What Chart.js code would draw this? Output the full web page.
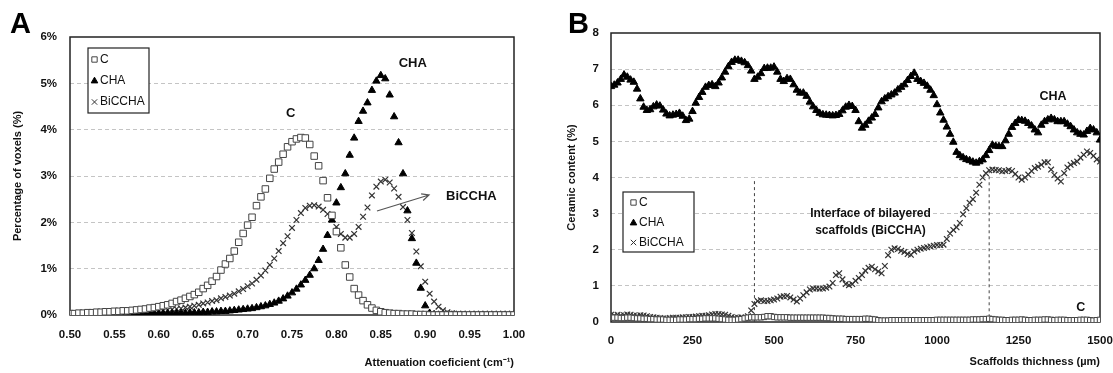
<!DOCTYPE html>
<html>
<head>
<meta charset="utf-8">
<script src="https://cdn.jsdelivr.net/npm/chart.js@4.4.1/dist/chart.umd.min.js"></script>
<style>
  html, body { margin: 0; padding: 0; background: #fff; }
  #wrapA { position: absolute; left: 0; top: 0; width: 545px; height: 373px; }
  #wrapB { position: absolute; left: 545px; top: 0; width: 568px; height: 373px; }
</style>
</head>
<body>
<div id="wrapA"><canvas id="chartA" width="545" height="373"></canvas></div>
<div id="wrapB"><canvas id="chartB" width="568" height="373"></canvas></div>
<script>
// ---- Panel A: attenuation coefficient histogram ----
const attenuation = [
    0.5, 0.505, 0.51, 0.515, 0.52, 0.525, 0.53, 0.535, 0.54, 0.545,
    0.55, 0.555, 0.56, 0.565, 0.57, 0.575, 0.58, 0.585, 0.59, 0.595,
    0.6, 0.605, 0.61, 0.615, 0.62, 0.625, 0.63, 0.635, 0.64, 0.645,
    0.65, 0.655, 0.66, 0.665, 0.67, 0.675, 0.68, 0.685, 0.69, 0.695,
    0.7, 0.705, 0.71, 0.715, 0.72, 0.725, 0.73, 0.735, 0.74, 0.745,
    0.75, 0.755, 0.76, 0.765, 0.77, 0.775, 0.78, 0.785, 0.79, 0.795,
    0.8, 0.805, 0.81, 0.815, 0.82, 0.825, 0.83, 0.835, 0.84, 0.845,
    0.85, 0.855, 0.86, 0.865, 0.87, 0.875, 0.88, 0.885, 0.89, 0.895,
    0.9, 0.905, 0.91, 0.915, 0.92, 0.925, 0.93, 0.935, 0.94, 0.945,
    0.95, 0.955, 0.96, 0.965, 0.97, 0.975, 0.98, 0.985, 0.99, 0.995,
    1.0
];
const voxelsC = [
    0.03, 0.03, 0.04, 0.04, 0.05, 0.05, 0.06, 0.06, 0.07, 0.07,
    0.08, 0.08, 0.09, 0.09, 0.10, 0.11, 0.12, 0.13, 0.15, 0.16,
    0.18, 0.20, 0.22, 0.25, 0.29, 0.32, 0.36, 0.40, 0.44, 0.49,
    0.57, 0.64, 0.73, 0.83, 0.97, 1.10, 1.22, 1.38, 1.57, 1.76,
    1.94, 2.11, 2.36, 2.55, 2.72, 2.95, 3.15, 3.30, 3.47, 3.63,
    3.74, 3.80, 3.83, 3.82, 3.68, 3.43, 3.22, 2.90, 2.53, 2.15,
    1.80, 1.45, 1.08, 0.82, 0.57, 0.43, 0.31, 0.22, 0.15, 0.10,
    0.07, 0.05, 0.04, 0.03, 0.03, 0.02, 0.02, 0.02, 0.01, 0.01,
    0.01, 0, 0, 0, 0, 0, 0, 0, 0, 0,
    0, 0, 0, 0, 0, 0, 0, 0, 0, 0,
    0
];
const voxelsCHA = [
    0, 0, 0, 0.01, 0.01, 0.01, 0.01, 0.01, 0.01, 0.01,
    0.01, 0.01, 0.02, 0.02, 0.02, 0.02, 0.02, 0.02, 0.02, 0.03,
    0.03, 0.03, 0.03, 0.03, 0.04, 0.04, 0.04, 0.05, 0.05, 0.05,
    0.06, 0.06, 0.07, 0.07, 0.08, 0.08, 0.09, 0.10, 0.11, 0.12,
    0.13, 0.14, 0.16, 0.18, 0.20, 0.23, 0.26, 0.30, 0.35, 0.41,
    0.48, 0.56, 0.65, 0.75, 0.86, 1.00, 1.18, 1.42, 1.72, 2.05,
    2.42, 2.75, 3.05, 3.45, 3.82, 4.18, 4.40, 4.58, 4.85, 5.05,
    5.17, 5.10, 4.75, 4.28, 3.72, 3.05, 2.25, 1.65, 1.12, 0.58,
    0.20, 0.04, 0.01, 0, 0, 0, 0, 0, 0, 0,
    0, 0, 0, 0, 0, 0, 0, 0, 0, 0,
    0
];
const voxelsBiCCHA = [
    0.02, 0.02, 0.02, 0.03, 0.03, 0.03, 0.03, 0.04, 0.04, 0.04,
    0.05, 0.05, 0.05, 0.06, 0.06, 0.07, 0.07, 0.08, 0.08, 0.09,
    0.09, 0.10, 0.11, 0.12, 0.13, 0.14, 0.16, 0.18, 0.20, 0.22,
    0.25, 0.27, 0.30, 0.32, 0.36, 0.39, 0.42, 0.46, 0.51, 0.56,
    0.62, 0.68, 0.76, 0.85, 0.96, 1.08, 1.22, 1.38, 1.55, 1.70,
    1.88, 2.05, 2.20, 2.31, 2.36, 2.37, 2.34, 2.27, 2.18, 2.06,
    1.90, 1.75, 1.67, 1.67, 1.75, 1.90, 2.12, 2.32, 2.58, 2.77,
    2.88, 2.92, 2.86, 2.73, 2.55, 2.33, 2.05, 1.77, 1.37, 1.05,
    0.72, 0.46, 0.29, 0.18, 0.10, 0.06, 0.04, 0.02, 0.01, 0,
    0, 0, 0, 0, 0, 0, 0, 0, 0, 0,
    0
];

// ---- Panel B: ceramic content along scaffold thickness ----
const thickness = [
    0, 10, 20, 30, 40, 50, 60, 70, 80, 90,
    100, 110, 120, 130, 140, 150, 160, 170, 180, 190,
    200, 210, 220, 230, 240, 250, 260, 270, 280, 290,
    300, 310, 320, 330, 340, 350, 360, 370, 380, 390,
    400, 410, 420, 430, 440, 450, 460, 470, 480, 490,
    500, 510, 520, 530, 540, 550, 560, 570, 580, 590,
    600, 610, 620, 630, 640, 650, 660, 670, 680, 690,
    700, 710, 720, 730, 740, 750, 760, 770, 780, 790,
    800, 810, 820, 830, 840, 850, 860, 870, 880, 890,
    900, 910, 920, 930, 940, 950, 960, 970, 980, 990,
    1000, 1010, 1020, 1030, 1040, 1050, 1060, 1070, 1080, 1090,
    1100, 1110, 1120, 1130, 1140, 1150, 1160, 1170, 1180, 1190,
    1200, 1210, 1220, 1230, 1240, 1250, 1260, 1270, 1280, 1290,
    1300, 1310, 1320, 1330, 1340, 1350, 1360, 1370, 1380, 1390,
    1400, 1410, 1420, 1430, 1440, 1450, 1460, 1470, 1480, 1490,
    1500
];
const ceramicC = [
    0.13, 0.12, 0.12, 0.11, 0.11, 0.12, 0.12, 0.11, 0.10, 0.10,
    0.09, 0.09, 0.08, 0.08, 0.07, 0.07, 0.07, 0.06, 0.06, 0.06,
    0.06, 0.07, 0.07, 0.07, 0.08, 0.08, 0.08, 0.09, 0.09, 0.10,
    0.10, 0.10, 0.10, 0.09, 0.08, 0.07, 0.06, 0.06, 0.06, 0.07,
    0.08, 0.10, 0.12, 0.13, 0.13, 0.13, 0.13, 0.14, 0.16, 0.16,
    0.14, 0.13, 0.13, 0.13, 0.13, 0.12, 0.12, 0.12, 0.12, 0.12,
    0.12, 0.12, 0.12, 0.12, 0.12, 0.12, 0.11, 0.11, 0.10, 0.09,
    0.09, 0.09, 0.08, 0.08, 0.08, 0.08, 0.08, 0.08, 0.09, 0.09,
    0.08, 0.07, 0.05, 0.04, 0.04, 0.04, 0.05, 0.05, 0.05, 0.05,
    0.05, 0.05, 0.05, 0.05, 0.05, 0.05, 0.05, 0.05, 0.05, 0.05,
    0.06, 0.06, 0.06, 0.06, 0.06, 0.06, 0.06, 0.06, 0.06, 0.06,
    0.06, 0.07, 0.07, 0.07, 0.08, 0.08, 0.09, 0.08, 0.07, 0.06,
    0.06, 0.05, 0.05, 0.06, 0.06, 0.06, 0.07, 0.06, 0.05, 0.05,
    0.06, 0.06, 0.06, 0.07, 0.07, 0.06, 0.05, 0.06, 0.06, 0.06,
    0.05, 0.05, 0.05, 0.05, 0.06, 0.06, 0.06, 0.05, 0.04, 0.05,
    0.06
];
const ceramicCHA = [
    6.52, 6.56, 6.62, 6.72, 6.84, 6.78, 6.70, 6.64, 6.45, 6.18,
    5.95, 5.86, 5.88, 5.96, 6.01, 5.98, 5.87, 5.76, 5.71, 5.73,
    5.75, 5.78, 5.70, 5.58, 5.62, 5.83, 6.06, 6.22, 6.36, 6.50,
    6.55, 6.57, 6.52, 6.62, 6.76, 6.92, 7.07, 7.19, 7.25, 7.25,
    7.22, 7.18, 7.10, 6.95, 6.72, 6.78, 6.88, 7.02, 7.03, 7.03,
    7.06, 6.92, 6.72, 6.66, 6.74, 6.72, 6.57, 6.42, 6.34, 6.34,
    6.25, 6.09, 5.96, 5.86, 5.78, 5.74, 5.73, 5.72, 5.71, 5.72,
    5.75, 5.85, 5.95, 6.00, 5.97, 5.86, 5.55, 5.37, 5.45, 5.56,
    5.65, 5.75, 5.93, 6.10, 6.18, 6.24, 6.29, 6.34, 6.43, 6.50,
    6.57, 6.69, 6.80, 6.89, 6.72, 6.66, 6.61, 6.53, 6.42, 6.27,
    6.02, 5.79, 5.59, 5.40, 5.20, 4.98, 4.70, 4.61, 4.55, 4.50,
    4.47, 4.43, 4.40, 4.44, 4.49, 4.61, 4.75, 4.90, 4.87, 4.86,
    4.86, 5.02, 5.20, 5.39, 5.50, 5.59, 5.58, 5.56, 5.50, 5.43,
    5.32, 5.24, 5.45, 5.55, 5.60, 5.64, 5.60, 5.55, 5.55, 5.55,
    5.48, 5.41, 5.32, 5.24, 5.20, 5.18, 5.28, 5.36, 5.32, 5.24,
    5.04
];
const ceramicBiCCHA = [
    0.20, 0.18, 0.20, 0.18, 0.19, 0.21, 0.20, 0.18, 0.17, 0.19,
    0.18, 0.16, 0.14, 0.13, 0.12, 0.11, 0.10, 0.10, 0.11, 0.12,
    0.12, 0.12, 0.13, 0.13, 0.14, 0.14, 0.15, 0.16, 0.17, 0.17,
    0.19, 0.21, 0.22, 0.22, 0.21, 0.20, 0.17, 0.14, 0.12, 0.12,
    0.13, 0.12, 0.16, 0.32, 0.50, 0.58, 0.60, 0.58, 0.58, 0.60,
    0.62, 0.65, 0.70, 0.71, 0.72, 0.68, 0.62, 0.57, 0.65, 0.74,
    0.82, 0.90, 0.93, 0.93, 0.92, 0.93, 0.95, 0.98, 1.08, 1.30,
    1.35, 1.18, 1.05, 1.02, 1.05, 1.14, 1.22, 1.30, 1.42, 1.50,
    1.53, 1.46, 1.40, 1.35, 1.55, 1.85, 2.00, 2.04, 2.02, 1.97,
    1.94, 1.88, 1.86, 1.95, 2.00, 2.03, 2.05, 2.07, 2.09, 2.11,
    2.13, 2.13, 2.14, 2.30, 2.45, 2.55, 2.62, 2.74, 2.98, 3.15,
    3.30, 3.40, 3.58, 3.80, 4.00, 4.12, 4.20, 4.22, 4.21, 4.20,
    4.17, 4.18, 4.21, 4.18, 4.10, 4.00, 3.94, 4.00, 4.08, 4.18,
    4.26, 4.30, 4.35, 4.42, 4.42, 4.22, 4.07, 3.97, 3.89, 4.12,
    4.28, 4.35, 4.40, 4.44, 4.55, 4.63, 4.72, 4.68, 4.60, 4.50,
    4.44
];
// interface markers (thickness, top of dashed line)
const interfaceAt = [440, 1160];
const interfaceTop = [3.9, 4.2];

const FONT = '"Liberation Sans", Arial, sans-serif';
const tickFont = { family: FONT, size: 11.5, weight: 'bold' };
const titleFont = { family: FONT, size: 11, weight: 'bold' };

function toPoints(xs, ys) {
    return xs.map((x, i) => ({ x: x, y: ys[i] }));
}

function makeDatasets(xs, c, cha, bi, r) {
    return [
        { label: 'C', data: toPoints(xs, c), pointStyle: 'rect', pointRadius: r.c,
          backgroundColor: '#fff', borderColor: '#444', pointBorderWidth: 1 },
        { label: 'CHA', data: toPoints(xs, cha), pointStyle: 'triangle', pointRadius: r.t,
          backgroundColor: '#000', borderColor: '#000', pointBorderWidth: 1 },
        { label: 'BiCCHA', data: toPoints(xs, bi), pointStyle: 'crossRot', pointRadius: r.x,
          backgroundColor: '#333', borderColor: '#333', pointBorderWidth: 1.2 }
    ];
}

const framePlugin = {
    id: 'frame',
    beforeDatasetsDraw(chart) {
        const { ctx, chartArea: a } = chart;
        ctx.save();
        ctx.strokeStyle = '#222';
        ctx.lineWidth = 1.5;
        ctx.strokeRect(a.left, a.top, a.right - a.left, a.bottom - a.top);
        ctx.restore();
    }
};

function drawLegend(chart, box) {
    const { ctx, chartArea: a } = chart;
    const left = a.left + box.dx;
    const top = a.top + box.dy;
    ctx.save();
    ctx.fillStyle = '#fff';
    ctx.fillRect(left, top, box.w, box.h);
    ctx.strokeStyle = '#222';
    ctx.lineWidth = 1.2;
    ctx.strokeRect(left, top, box.w, box.h);
    ctx.font = '12px ' + FONT;
    ctx.textBaseline = 'middle';
    ctx.textAlign = 'left';
    chart.data.datasets.forEach((ds, i) => {
        const y = top + box.rows[i];
        ctx.fillStyle = ds.backgroundColor;
        ctx.strokeStyle = ds.borderColor;
        ctx.lineWidth = 1;
        Chart.helpers.drawPoint(ctx, { pointStyle: ds.pointStyle, radius: 3.8, borderWidth: 1, rotation: 0 },
            left + box.mx, y);
        ctx.fillStyle = '#111';
        ctx.fillText(ds.label, left + box.tx, y);
    });
    ctx.restore();
}

function drawLabel(chart, text, x, y, size) {
    const ctx = chart.ctx;
    ctx.save();
    ctx.font = 'bold ' + size + 'px ' + FONT;
    ctx.fillStyle = '#111';
    ctx.textAlign = 'center';
    ctx.textBaseline = 'middle';
    ctx.fillText(text, chart.scales.x.getPixelForValue(x), chart.scales.y.getPixelForValue(y));
    ctx.restore();
}

function drawPanelLetter(chart, letter, x, y) {
    const ctx = chart.ctx;
    ctx.save();
    ctx.font = 'bold 29px ' + FONT;
    ctx.fillStyle = '#000';
    ctx.textAlign = 'left';
    ctx.textBaseline = 'middle';
    ctx.fillText(letter, x, y);
    ctx.restore();
}

function axisOptions(o) {
    return {
        x: {
            type: 'linear', min: o.xMin, max: o.xMax,
            ticks: { stepSize: o.xStep, autoSkip: false, maxRotation: 0, color: '#111', font: tickFont,
                     padding: o.xPad, callback: o.xFmt },
            grid: { display: false, drawTicks: false },
            border: { display: false },
            title: { display: true, text: o.xTitle, align: 'end', color: '#111', font: titleFont,
                     padding: { top: 0, bottom: o.xTitlePad } },
            afterFit: s => { s.height = o.xHeight; s.paddingLeft = 0; s.paddingRight = 0; }
        },
        y: {
            min: o.yMin, max: o.yMax,
            ticks: { stepSize: 1, color: '#111', font: tickFont, padding: o.yPad, callback: o.yFmt },
            grid: {
                drawTicks: false, lineWidth: 1,
                color: c => (c.tick.value === o.yMin || c.tick.value === o.yMax) ? 'rgba(0,0,0,0)' : '#c4c4c4'
            },
            border: { display: false, dash: [4, 3] },
            title: { display: true, text: o.yTitle, color: '#111', font: titleFont,
                     padding: { top: o.yTitlePad, bottom: 0 } },
            afterFit: s => { s.width = o.yWidth; }
        }
    };
}

// ---- chart A ----
new Chart(document.getElementById('chartA'), {
    type: 'scatter',
    data: { datasets: makeDatasets(attenuation, voxelsC, voxelsCHA, voxelsBiCCHA, { c: 4.6, t: 4.2, x: 4.0 }) },
    options: {
        responsive: false, animation: false, events: [],
        layout: { padding: { left: 0, top: 37, right: 31, bottom: 0 } },
        plugins: { legend: { display: false }, tooltip: { enabled: false } },
        scales: axisOptions({
            xMin: 0.5, xMax: 1.0, xStep: 0.05, xPad: 13, xFmt: v => v.toFixed(2),
            xTitle: 'Attenuation coeficient (cm⁻¹)', xTitlePad: 3, xHeight: 58,
            yMin: 0, yMax: 6, yPad: 13, yFmt: v => v + '%',
            yTitle: 'Percentage of voxels (%)', yTitlePad: 11, yWidth: 70
        })
    },
    plugins: [framePlugin, {
        id: 'notesA',
        afterDatasetsDraw(chart) {
            drawLegend(chart, { dx: 18, dy: 11, w: 61, h: 65, rows: [11.5, 33, 54], mx: 6.5, tx: 12 });
            drawLabel(chart, 'C', 0.7485, 4.34, 13);
            drawLabel(chart, 'CHA', 0.886, 5.44, 13);
            drawLabel(chart, 'BiCCHA', 0.952, 2.55, 13);
            // arrow pointing to the BiCCHA label
            const ctx = chart.ctx, sx = chart.scales.x, sy = chart.scales.y;
            const x0 = sx.getPixelForValue(0.8457), y0 = sy.getPixelForValue(2.245);
            const x1 = sx.getPixelForValue(0.9043), y1 = sy.getPixelForValue(2.59);
            const ang = Math.atan2(y1 - y0, x1 - x0);
            ctx.save();
            ctx.strokeStyle = '#555';
            ctx.lineWidth = 1.2;
            ctx.beginPath();
            ctx.moveTo(x0, y0);
            ctx.lineTo(x1, y1);
            ctx.moveTo(x1 - 8 * Math.cos(ang - 0.45), y1 - 8 * Math.sin(ang - 0.45));
            ctx.lineTo(x1, y1);
            ctx.lineTo(x1 - 8 * Math.cos(ang + 0.45), y1 - 8 * Math.sin(ang + 0.45));
            ctx.stroke();
            ctx.restore();
            drawPanelLetter(chart, 'A', 10, 25);
        }
    }]
});

// ---- chart B ----
new Chart(document.getElementById('chartB'), {
    type: 'scatter',
    data: { datasets: makeDatasets(thickness, ceramicC, ceramicCHA, ceramicBiCCHA, { c: 3.8, t: 4.3, x: 4.0 }) },
    options: {
        responsive: false, animation: false, events: [],
        layout: { padding: { left: 0, top: 33, right: 13, bottom: 0 } },
        plugins: { legend: { display: false }, tooltip: { enabled: false } },
        scales: axisOptions({
            xMin: 0, xMax: 1500, xStep: 250, xPad: 12, xFmt: v => String(v),
            xTitle: 'Scaffolds thichness (µm)', xTitlePad: 4, xHeight: 51,
            yMin: 0, yMax: 8, yPad: 12, yFmt: v => String(v),
            yTitle: 'Ceramic content (%)', yTitlePad: 20, yWidth: 66
        })
    },
    plugins: [framePlugin, {
        id: 'interfaceLines',
        beforeDatasetsDraw(chart) {
            const ctx = chart.ctx, sx = chart.scales.x, sy = chart.scales.y;
            ctx.save();
            ctx.strokeStyle = '#444';
            ctx.lineWidth = 1;
            ctx.setLineDash([3, 3]);
            interfaceAt.forEach((v, i) => {
                const px = sx.getPixelForValue(v);
                ctx.beginPath();
                ctx.moveTo(px, sy.getPixelForValue(interfaceTop[i]));
                ctx.lineTo(px, sy.getPixelForValue(0));
                ctx.stroke();
            });
            ctx.restore();
        }
    }, {
        id: 'notesB',
        afterDatasetsDraw(chart) {
            drawLegend(chart, { dx: 12, dy: 159, w: 71, h: 60, rows: [10.5, 31, 50.5], mx: 10.5, tx: 16 });
            drawLabel(chart, 'CHA', 1356, 6.23, 12.5);
            drawLabel(chart, 'C', 1441, 0.39, 12.5);
            drawLabel(chart, 'Interface of bilayered', 796, 2.99, 12);
            drawLabel(chart, 'scaffolds (BiCCHA)', 796, 2.52, 12);
            drawPanelLetter(chart, 'B', 23, 25);
        }
    }]
});
</script>
</body>
</html>
